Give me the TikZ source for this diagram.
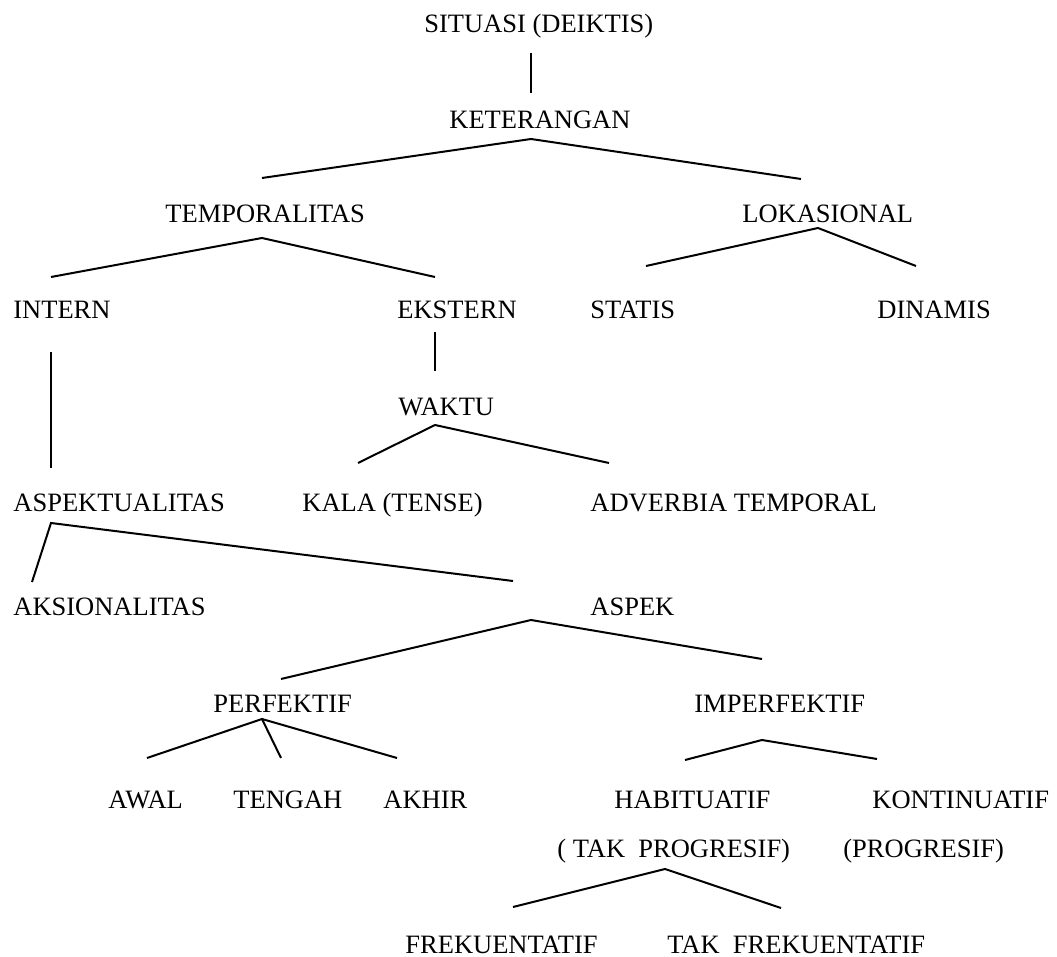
\documentclass[tikz,border=0pt]{standalone}
\usepackage{fontspec}
\setmainfont{Liberation Serif}
\begin{document}
\begin{tikzpicture}[x=0.5pt,y=-0.5pt,
  lbl/.style={anchor=base west,inner sep=0pt,font=\fontsize{13.25}{16}\selectfont},
  branch/.style={line width=1pt,line join=miter},
  stem/.style={line width=1pt}]
\useasboundingbox (0,0) rectangle (1057,957);

% labels (left edge, baseline)
\node[lbl] (sit)  at (424,33)  {SITUASI (DEIKTIS)};
\node[lbl] (ket)  at (449,129) {KETERANGAN};
\node[lbl] (tmp)  at (165,223) {TEMPORALITAS};
\node[lbl] (lok)  at (742,223) {LOKASIONAL};
\node[lbl] (int)  at (13,319)  {INTERN};
\node[lbl] (eks)  at (397,319) {EKSTERN};
\node[lbl] (sta)  at (590,319) {STATIS};
\node[lbl] (din)  at (877,319) {DINAMIS};
\node[lbl] (wak)  at (398,416) {WAKTU};
\node[lbl] (asp)  at (13,512)  {ASPEKTUALITAS};
\node[lbl] (kal)  at (302,512) {KALA (TENSE)};
\node[lbl] (adv)  at (590,512) {ADVERBIA TEMPORAL};
\node[lbl] (aks)  at (13,616)  {AKSIONALITAS};
\node[lbl] (ask)  at (590,616) {ASPEK};
\node[lbl] (per)  at (213,713) {PERFEKTIF};
\node[lbl] (imp)  at (694,713) {IMPERFEKTIF};
\node[lbl] (awa)  at (108,809) {AWAL};
\node[lbl] (ten)  at (233,809) {TENGAH};
\node[lbl] (akh)  at (383,809) {AKHIR};
\node[lbl] (hab)  at (614,809) {HABITUATIF};
\node[lbl] (kon)  at (872,809) {KONTINUATIF};
\node[lbl] (tpr)  at (557,857) {( TAK\ \ PROGRESIF)};
\node[lbl] (pro)  at (843,857) {(PROGRESIF)};
\node[lbl] (fre)  at (405,953) {FREKUENTATIF};
\node[lbl] (tfr)  at (667,953) {TAK\ \ FREKUENTATIF};

% branch points
\coordinate (sitS) at (531,53);  \coordinate (ketN) at (531,93);
\coordinate (ketA) at (531,139); \coordinate (tmpN) at (262,178); \coordinate (lokN) at (801,179);
\coordinate (tmpA) at (262,238); \coordinate (intN) at (51,277);  \coordinate (eksN) at (435,277);
\coordinate (lokA) at (818,228); \coordinate (staN) at (646,266); \coordinate (dinN) at (916,266);
\coordinate (intS) at (51,352);  \coordinate (aspN) at (51,468);
\coordinate (eksS) at (435,332); \coordinate (wakN) at (435,371);
\coordinate (wakA) at (435,425); \coordinate (kalN) at (358,463); \coordinate (advN) at (609,463);
\coordinate (aspA) at (51,523);  \coordinate (aksN) at (32,582);  \coordinate (askN) at (513,581);
\coordinate (askA) at (531,620); \coordinate (perN) at (281,679); \coordinate (impN) at (762,659);
\coordinate (perA) at (262,719); \coordinate (awaN) at (147,758); \coordinate (tenN) at (281,758); \coordinate (akhN) at (397,758);
\coordinate (impA) at (762,740); \coordinate (habN) at (685,760); \coordinate (konN) at (877,759);
\coordinate (habA) at (665,869); \coordinate (freN) at (513,907); \coordinate (tfrN) at (781,908);

% connectors
\draw[stem] (sitS) -- (ketN);
\draw[branch] (tmpN) -- (ketA) -- (lokN);
\draw[branch] (intN) -- (tmpA) -- (eksN);
\draw[branch] (staN) -- (lokA) -- (dinN);
\draw[stem] (intS) -- (aspN);
\draw[stem] (eksS) -- (wakN);
\draw[branch] (kalN) -- (wakA) -- (advN);
\draw[branch] (aksN) -- (aspA) -- (askN);
\draw[branch] (perN) -- (askA) -- (impN);
\draw[branch] (awaN) -- (perA) -- (akhN);
\draw[stem] (perA) -- (tenN);
\draw[branch] (habN) -- (impA) -- (konN);
\draw[branch] (freN) -- (habA) -- (tfrN);
\end{tikzpicture}
\end{document}
